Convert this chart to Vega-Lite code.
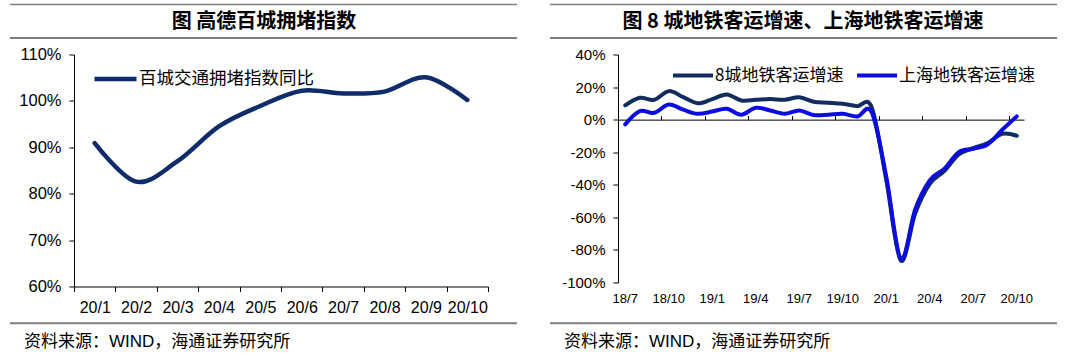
{
  "$schema": "https://vega.github.io/schema/vega-lite/v6.json",
  "autosize": {"type": "pad"},
  "padding": {"left": 8, "top": 3.5, "right": 0, "bottom": 0},
  "background": "white",
  "config": {
    "view": {"stroke": null},
    "axis": {"labelFont": "Liberation Sans", "labelColor": "#000", "domainColor": "#000", "tickColor": "#000", "domainWidth": 1, "tickWidth": 1, "grid": false}
  },
  "datasets": {
    "traffic": [
      {"month": "20/1", "series": "百城交通拥堵指数同比", "value": 90.9},
      {"month": "20/2", "series": "百城交通拥堵指数同比", "value": 82.6},
      {"month": "20/3", "series": "百城交通拥堵指数同比", "value": 87.0},
      {"month": "20/4", "series": "百城交通拥堵指数同比", "value": 94.5},
      {"month": "20/5", "series": "百城交通拥堵指数同比", "value": 98.9},
      {"month": "20/6", "series": "百城交通拥堵指数同比", "value": 102.2},
      {"month": "20/7", "series": "百城交通拥堵指数同比", "value": 101.6},
      {"month": "20/8", "series": "百城交通拥堵指数同比", "value": 102.0},
      {"month": "20/9", "series": "百城交通拥堵指数同比", "value": 105.1},
      {"month": "20/10", "series": "百城交通拥堵指数同比", "value": 100.2}
    ],
    "metro": [
      {"month": "18/7", "series": "8城地铁客运增速", "value": 8.7},
      {"month": "18/8", "series": "8城地铁客运增速", "value": 13.4},
      {"month": "18/9", "series": "8城地铁客运增速", "value": 12.2},
      {"month": "18/10", "series": "8城地铁客运增速", "value": 17.5},
      {"month": "18/11", "series": "8城地铁客运增速", "value": 13.8},
      {"month": "18/12", "series": "8城地铁客运增速", "value": 10.1},
      {"month": "19/1", "series": "8城地铁客运增速", "value": 12.6},
      {"month": "19/2", "series": "8城地铁客运增速", "value": 15.5},
      {"month": "19/3", "series": "8城地铁客运增速", "value": 11.8},
      {"month": "19/4", "series": "8城地铁客运增速", "value": 12.2},
      {"month": "19/5", "series": "8城地铁客运增速", "value": 12.6},
      {"month": "19/6", "series": "8城地铁客运增速", "value": 12.2},
      {"month": "19/7", "series": "8城地铁客运增速", "value": 13.8},
      {"month": "19/8", "series": "8城地铁客运增速", "value": 11.0},
      {"month": "19/9", "series": "8城地铁客运增速", "value": 10.4},
      {"month": "19/10", "series": "8城地铁客运增速", "value": 9.7},
      {"month": "19/11", "series": "8城地铁客运增速", "value": 8.3},
      {"month": "19/12", "series": "8城地铁客运增速", "value": 7.5},
      {"month": "20/1", "series": "8城地铁客运增速", "value": -37},
      {"month": "20/2", "series": "8城地铁客运增速", "value": -86.5},
      {"month": "20/3", "series": "8城地铁客运增速", "value": -57.5},
      {"month": "20/4", "series": "8城地铁客运增速", "value": -39.4},
      {"month": "20/5", "series": "8城地铁客运增速", "value": -31.6},
      {"month": "20/6", "series": "8城地铁客运增速", "value": -21.4},
      {"month": "20/7", "series": "8城地铁客运增速", "value": -17.5},
      {"month": "20/8", "series": "8城地铁客运增速", "value": -14.4},
      {"month": "20/9", "series": "8城地铁客运增速", "value": -8.7},
      {"month": "20/10", "series": "8城地铁客运增速", "value": -9.9},
      {"month": "18/7", "series": "上海地铁客运增速", "value": -2.9},
      {"month": "18/8", "series": "上海地铁客运增速", "value": 5.2},
      {"month": "18/9", "series": "上海地铁客运增速", "value": 4.2},
      {"month": "18/10", "series": "上海地铁客运增速", "value": 9.3},
      {"month": "18/11", "series": "上海地铁客运增速", "value": 6.1},
      {"month": "18/12", "series": "上海地铁客运增速", "value": 3.6},
      {"month": "19/1", "series": "上海地铁客运增速", "value": 5.0},
      {"month": "19/2", "series": "上海地铁客运增速", "value": 6.7},
      {"month": "19/3", "series": "上海地铁客运增速", "value": 3.0},
      {"month": "19/4", "series": "上海地铁客运增速", "value": 7.3},
      {"month": "19/5", "series": "上海地铁客运增速", "value": 5.6},
      {"month": "19/6", "series": "上海地铁客运增速", "value": 3.6},
      {"month": "19/7", "series": "上海地铁客运增速", "value": 5.6},
      {"month": "19/8", "series": "上海地铁客运增速", "value": 2.8},
      {"month": "19/9", "series": "上海地铁客运增速", "value": 3.0},
      {"month": "19/10", "series": "上海地铁客运增速", "value": 3.6},
      {"month": "19/11", "series": "上海地铁客运增速", "value": 2.0},
      {"month": "19/12", "series": "上海地铁客运增速", "value": 4.5},
      {"month": "20/1", "series": "上海地铁客运增速", "value": -35},
      {"month": "20/2", "series": "上海地铁客运增速", "value": -85.5},
      {"month": "20/3", "series": "上海地铁客运增速", "value": -55},
      {"month": "20/4", "series": "上海地铁客运增速", "value": -37.3},
      {"month": "20/5", "series": "上海地铁客运增速", "value": -30.2},
      {"month": "20/6", "series": "上海地铁客运增速", "value": -19.9},
      {"month": "20/7", "series": "上海地铁客运增速", "value": -17.9},
      {"month": "20/8", "series": "上海地铁客运增速", "value": -15.2},
      {"month": "20/9", "series": "上海地铁客运增速", "value": -6.2},
      {"month": "20/10", "series": "上海地铁客运增速", "value": 2.0}
    ]
  },
  "hconcat": [
    {
      "width": 414,
      "height": 232,
      "layer": [
        {
          "data": {"name": "traffic"},
          "mark": {"type": "line", "interpolate": "cardinal", "strokeWidth": 4.5, "strokeCap": "round", "strokeJoin": "round"},
          "encoding": {
            "x": {"field": "month", "type": "ordinal", "sort": null,
              "scale": {"type": "band", "paddingInner": 0, "paddingOuter": 0},
              "axis": {"title": null, "tickBand": "extent", "tickSize": 5, "labelFontSize": 16, "labelPadding": 8, "labelAngle": 0, "labelOverlap": false}},
            "y": {"field": "value", "type": "quantitative",
              "scale": {"domain": [60, 110], "nice": false, "zero": false},
              "axis": {"title": null, "values": [60, 70, 80, 90, 100, 110], "labelExpr": "datum.value + '%'", "tickSize": 5, "labelPadding": 8, "labelFontSize": 16.5}},
            "color": {"field": "series", "type": "nominal", "scale": {"range": ["#0f2c6a"]},
              "legend": {"title": null, "orient": "none", "legendX": 18, "legendY": 1, "symbolType": "stroke", "symbolSize": 1764, "symbolStrokeWidth": 4.5, "labelFont": "Noto Sans CJK SC", "labelFontSize": 17.5, "labelColor": "#000", "labelOffset": 0, "labelLimit": 0, "padding": 0}}
          }
        },
        {
          "data": {"values": [{"t": "图 高德百城拥堵指数"}]},
          "mark": {"type": "text", "font": "Noto Sans CJK SC", "fontSize": 20, "fontWeight": "bold", "align": "center", "baseline": "middle", "color": "#000"},
          "encoding": {
            "x": {"datum": 0.4589, "type": "quantitative", "scale": {"domain": [0, 1], "nice": false, "zero": false}, "axis": null},
            "y": {"datum": 1.1422, "type": "quantitative", "scale": {"domain": [0, 1], "nice": false, "zero": false}, "axis": null},
            "text": {"field": "t"}
          }
        },
        {
          "data": {"values": [{"t": "资料来源：WIND，海通证券研究所"}]},
          "mark": {"type": "text", "font": "Liberation Sans, Noto Sans CJK SC", "fontSize": 17, "align": "left", "baseline": "middle", "color": "#000"},
          "encoding": {
            "x": {"datum": -0.1208, "type": "quantitative", "scale": {"domain": [0, 1], "nice": false, "zero": false}, "axis": null},
            "y": {"datum": -0.2401, "type": "quantitative", "scale": {"domain": [0, 1], "nice": false, "zero": false}, "axis": null},
            "text": {"field": "t"}
          }
        },
        {
          "data": {"values": [{}]},
          "mark": {"type": "rule", "color": "#7f7f7f", "strokeWidth": 1.5},
          "encoding": {
            "x": {"datum": -0.1546, "type": "quantitative", "scale": {"domain": [0, 1], "nice": false, "zero": false}, "axis": null},
            "x2": {"datum": 1.07},
            "y": {"datum": 1.2155, "type": "quantitative", "scale": {"domain": [0, 1], "nice": false, "zero": false}, "axis": null}
          }
        },
        {
          "data": {"values": [{}]},
          "mark": {"type": "rule", "color": "#7f7f7f", "strokeWidth": 2},
          "encoding": {
            "x": {"datum": -0.1546, "type": "quantitative", "scale": {"domain": [0, 1], "nice": false, "zero": false}, "axis": null},
            "x2": {"datum": 1.07},
            "y": {"datum": 1.0711, "type": "quantitative", "scale": {"domain": [0, 1], "nice": false, "zero": false}, "axis": null}
          }
        },
        {
          "data": {"values": [{}]},
          "mark": {"type": "rule", "color": "#7f7f7f", "strokeWidth": 2},
          "encoding": {
            "x": {"datum": -0.1546, "type": "quantitative", "scale": {"domain": [0, 1], "nice": false, "zero": false}, "axis": null},
            "x2": {"datum": 1.07},
            "y": {"datum": -0.1582, "type": "quantitative", "scale": {"domain": [0, 1], "nice": false, "zero": false}, "axis": null}
          }
        }
      ],
      "resolve": {"scale": {"x": "independent", "y": "independent"}, "axis": {"x": "independent", "y": "independent"}}
    },
    {
      "width": 406,
      "height": 228,
      "layer": [
        {
          "data": {"name": "metro"},
          "transform": [{"filter": "datum.series === '8城地铁客运增速'"}],
          "mark": {"type": "line", "interpolate": "cardinal", "strokeWidth": 4, "strokeCap": "round", "strokeJoin": "round"},
          "encoding": {
            "x": {"field": "month", "type": "ordinal", "sort": null,
              "scale": {"type": "band", "paddingInner": 0, "paddingOuter": 0},
              "axis": {"title": null, "domain": false, "ticks": false, "tickSize": 0, "values": ["18/7", "18/10", "19/1", "19/4", "19/7", "19/10", "20/1", "20/4", "20/7", "20/10"], "labelFontSize": 13, "labelPadding": 10, "labelAngle": 0, "labelOverlap": false}},
            "y": {"field": "value", "type": "quantitative",
              "scale": {"domain": [-100, 40], "nice": false, "zero": false},
              "axis": {"title": null, "values": [-100, -80, -60, -40, -20, 0, 20, 40], "labelExpr": "datum.value + '%'", "tickSize": 5, "labelPadding": 8, "labelFontSize": 15}},
            "color": {"field": "series", "type": "nominal",
              "scale": {"domain": ["8城地铁客运增速", "上海地铁客运增速"], "range": ["#102d5e", "#0c0ce0"]},
              "legend": {"title": null, "orient": "none", "direction": "horizontal", "legendX": 53, "legendY": -1, "symbolType": "stroke", "symbolSize": 1600, "symbolStrokeWidth": 4, "labelFont": "Noto Sans CJK SC", "labelFontSize": 17, "labelColor": "#000", "labelOffset": 0, "labelLimit": 0, "columnPadding": 5, "padding": 0}}
          }
        },
        {
          "data": {"name": "metro"},
          "transform": [{"filter": "datum.series === '上海地铁客运增速'"}],
          "mark": {"type": "line", "interpolate": "cardinal", "strokeWidth": 4, "strokeCap": "round", "strokeJoin": "round"},
          "encoding": {
            "x": {"field": "month", "type": "ordinal", "sort": null,
              "scale": {"type": "band", "paddingInner": 0, "paddingOuter": 0},
              "axis": {"title": null, "labels": false, "domain": true, "ticks": true, "tickSize": 4, "bandPosition": 0, "values": ["18/10", "19/1", "19/4", "19/7", "19/10", "20/1", "20/4", "20/7", "20/10"], "offset": -65.14}},
            "y": {"field": "value", "type": "quantitative",
              "scale": {"domain": [-100, 40], "nice": false, "zero": false}, "axis": null},
            "color": {"field": "series", "type": "nominal",
              "scale": {"domain": ["8城地铁客运增速", "上海地铁客运增速"], "range": ["#102d5e", "#0c0ce0"]},
              "legend": {"title": null, "orient": "none", "direction": "horizontal", "legendX": 53, "legendY": -1, "symbolType": "stroke", "symbolSize": 1600, "symbolStrokeWidth": 4, "labelFont": "Noto Sans CJK SC", "labelFontSize": 17, "labelColor": "#000", "labelOffset": 0, "labelLimit": 0, "columnPadding": 5, "padding": 0}}
          }
        },
        {
          "data": {"values": [{"t": "图 8 城地铁客运增速、上海地铁客运增速"}]},
          "mark": {"type": "text", "font": "Noto Sans CJK SC", "fontSize": 20, "fontWeight": "bold", "align": "center", "baseline": "middle", "color": "#000"},
          "encoding": {
            "x": {"datum": 0.4557, "type": "quantitative", "scale": {"domain": [0, 1], "nice": false, "zero": false}, "axis": null},
            "y": {"datum": 1.1447, "type": "quantitative", "scale": {"domain": [0, 1], "nice": false, "zero": false}, "axis": null},
            "text": {"field": "t"}
          }
        },
        {
          "data": {"values": [{"t": "资料来源：WIND，海通证券研究所"}]},
          "mark": {"type": "text", "font": "Liberation Sans, Noto Sans CJK SC", "fontSize": 17, "align": "left", "baseline": "middle", "color": "#000"},
          "encoding": {
            "x": {"datum": -0.133, "type": "quantitative", "scale": {"domain": [0, 1], "nice": false, "zero": false}, "axis": null},
            "y": {"datum": -0.2618, "type": "quantitative", "scale": {"domain": [0, 1], "nice": false, "zero": false}, "axis": null},
            "text": {"field": "t"}
          }
        },
        {
          "data": {"values": [{}]},
          "mark": {"type": "rule", "color": "#7f7f7f", "strokeWidth": 1.5},
          "encoding": {
            "x": {"datum": -0.1675, "type": "quantitative", "scale": {"domain": [0, 1], "nice": false, "zero": false}, "axis": null},
            "x2": {"datum": 1.0813},
            "y": {"datum": 1.2193, "type": "quantitative", "scale": {"domain": [0, 1], "nice": false, "zero": false}, "axis": null}
          }
        },
        {
          "data": {"values": [{}]},
          "mark": {"type": "rule", "color": "#7f7f7f", "strokeWidth": 2},
          "encoding": {
            "x": {"datum": -0.1675, "type": "quantitative", "scale": {"domain": [0, 1], "nice": false, "zero": false}, "axis": null},
            "x2": {"datum": 1.0813},
            "y": {"datum": 1.0724, "type": "quantitative", "scale": {"domain": [0, 1], "nice": false, "zero": false}, "axis": null}
          }
        },
        {
          "data": {"values": [{}]},
          "mark": {"type": "rule", "color": "#7f7f7f", "strokeWidth": 2},
          "encoding": {
            "x": {"datum": -0.1675, "type": "quantitative", "scale": {"domain": [0, 1], "nice": false, "zero": false}, "axis": null},
            "x2": {"datum": 1.0813},
            "y": {"datum": -0.1785, "type": "quantitative", "scale": {"domain": [0, 1], "nice": false, "zero": false}, "axis": null}
          }
        }
      ],
      "resolve": {"scale": {"x": "independent", "y": "independent"}, "axis": {"x": "independent", "y": "independent"}}
    }
  ],
  "spacing": 130,
  "bounds": "flush",
  "resolve": {"scale": {"color": "independent", "x": "independent", "y": "independent"}, "legend": {"color": "independent"}}
}
